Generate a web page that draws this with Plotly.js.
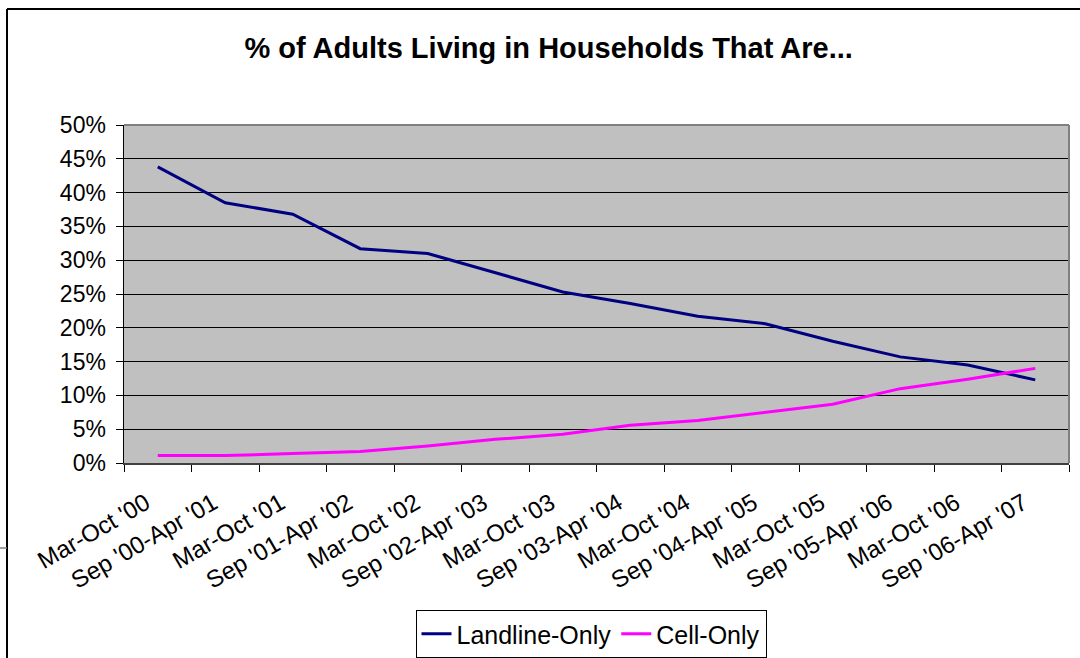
<!DOCTYPE html>
<html>
<head>
<meta charset="utf-8">
<script src="https://cdn.plot.ly/plotly-3.0.1.min.js"></script>
<style>html,body{margin:0;padding:0;background:#fff;}#chart{width:1080px;height:658px;}</style>
</head>
<body>
<div id="chart"></div>
<script>
const categories = ["Mar-Oct '00","Sep '00-Apr '01","Mar-Oct '01","Sep '01-Apr '02","Mar-Oct '02","Sep '02-Apr '03","Mar-Oct '03","Sep '03-Apr '04","Mar-Oct '04","Sep '04-Apr '05","Mar-Oct '05","Sep '05-Apr '06","Mar-Oct '06","Sep '06-Apr '07"];
const landlineOnly = [43.8,38.5,36.8,31.7,31.0,28.2,25.3,23.6,21.7,20.6,18.0,15.7,14.5,12.3];
const cellOnly = [1.1,1.1,1.4,1.7,2.5,3.5,4.25,5.6,6.3,7.5,8.7,11.0,12.4,14.0];
const yTicks = [0,5,10,15,20,25,30,35,40,45,50];

const FONT = "Liberation Sans, Arial, sans-serif";
const traces = [
  {x: categories, y: landlineOnly, type: 'scatter', mode: 'lines', name: 'Landline-Only',
   line: {color: '#000080', width: 3}},
  {x: categories, y: cellOnly, type: 'scatter', mode: 'lines', name: 'Cell-Only',
   line: {color: '#FF00FF', width: 3}}
];
const W = 945, H = 338; // plot area size in px
const layout = {
  width: 1080, height: 658,
  margin: {l: 124, r: 11, t: 125, b: 195},
  paper_bgcolor: '#ffffff', plot_bgcolor: '#C0C0C0',
  font: {family: FONT, color: '#000'},
  title: {text: '<b>% of Adults Living in Households That Are...</b>', font: {family: FONT, size: 29, color: '#000'},
          x: 0.508, xanchor: 'center', y: 1 - 48/658, yanchor: 'middle'},
  xaxis: {type: 'category', range: [-0.5, 13.5], tickson: 'boundaries', ticks: 'outside', ticklen: 7,
          tickcolor: '#000', tickwidth: 1, showline: true, linecolor: '#404040', linewidth: 2,
          showgrid: false, tickangle: -30, automargin: false, ticklabelshift: -12, ticklabelstandoff: 15,
          tickfont: {family: FONT, size: 24, color: '#000'}, fixedrange: true},
  yaxis: {range: [0, 50], tickvals: yTicks, ticktext: yTicks.map(v => v + '%'), ticks: 'outside', ticklen: 7,
          tickcolor: '#000', showline: true, linecolor: '#000', linewidth: 1.5, gridcolor: '#000', gridwidth: 1,
          zeroline: false, automargin: false, ticklabelstandoff: 5,
          tickfont: {family: FONT, size: 23, color: '#000'}, fixedrange: true},
  showlegend: true,
  legend: {orientation: 'h', xref: 'container', yref: 'container', x: 591/1080, xanchor: 'center',
           y: 1 - 610/658, yanchor: 'top',
           bordercolor: '#000', borderwidth: 1, bgcolor: '#fff', font: {family: FONT, size: 25, color: '#000'}},
  shapes: [
    {type: 'line', xref: 'paper', yref: 'paper', x0: 0, x1: 1, y0: 1, y1: 1, line: {color: '#808080', width: 2}, layer: 'above'},
    {type: 'line', xref: 'paper', yref: 'paper', x0: 1, x1: 1, y0: 0, y1: 1, line: {color: '#808080', width: 2}, layer: 'above'},
    {type: 'line', xref: 'paper', yref: 'paper', x0: (7-124)/W, x1: (1085-124)/W, y0: (463-9)/H, y1: (463-9)/H, line: {color: '#000', width: 2}},
    {type: 'line', xref: 'paper', yref: 'paper', x0: (7-124)/W, x1: (7-124)/W, y0: (463-9)/H, y1: (463-665)/H, line: {color: '#000', width: 2}},
    {type: 'line', xref: 'paper', yref: 'paper', x0: (-5-124)/W, x1: (7-124)/W, y0: (463-548)/H, y1: (463-548)/H, line: {color: '#808080', width: 1.5}}
  ]
};
Plotly.newPlot('chart', traces, layout, {displayModeBar: false, staticPlot: true});
</script>
</body>
</html>
